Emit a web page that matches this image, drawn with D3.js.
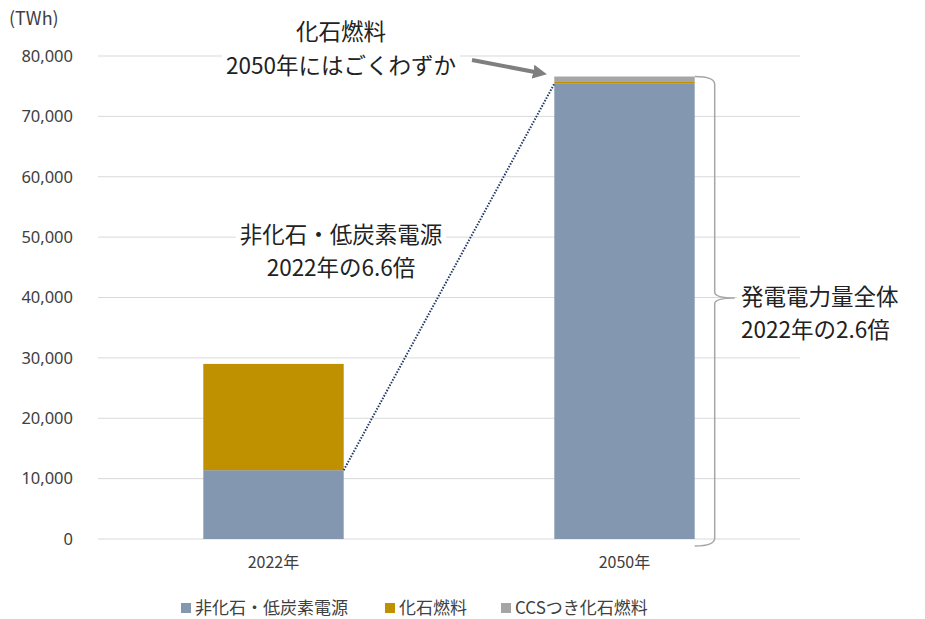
<!DOCTYPE html>
<html>
<head>
<meta charset="UTF-8" />
<title>発電電力量</title>
<script src="https://cdn.jsdelivr.net/npm/d3@7"></script>
<style>
body{margin:0;background:#fff;}
text{font-family:"Noto Sans CJK JP","Noto Sans",sans-serif;}
</style>
</head>
<body>
<div id="chart"></div>
<script>
var w=925,h=619;
var margin={top:56,right:125,bottom:80,left:98};

var years=['2022年','2050年'];
var seriesNames=['非化石・低炭素電源','化石燃料','CCSつき化石燃料'];
var nonFossil=[11400,75400];
var fossil=[17600,300];
var ccs=[0,900];
var yTicks=[0,10000,20000,30000,40000,50000,60000,70000,80000];
var colors=['#8497b0','#bf9000','#a5a5a5'];

var rows=years.map(function(y,i){
  return {year:y,'非化石・低炭素電源':nonFossil[i],'化石燃料':fossil[i],'CCSつき化石燃料':ccs[i]};
});
var stacked=d3.stack().keys(seriesNames)(rows);

var x=d3.scaleBand().domain(years).range([margin.left,w-margin.right]).paddingInner(0.6).paddingOuter(0.3);
var y=d3.scaleLinear().domain([0,80000]).range([h-margin.bottom,margin.top]);

var svg=d3.select('#chart').append('svg').attr('width',w).attr('height',h);

//グリッド線
svg.append('g').selectAll('line').data(yTicks).enter().append('line')
  .attr('x1',margin.left).attr('x2',w-margin.right)
  .attr('y1',function(d){return y(d);}).attr('y2',function(d){return y(d);})
  .attr('stroke','#d9d9d9').attr('stroke-width',1);

//y軸ラベル
var yAxis=svg.append('g').attr('transform','translate('+(margin.left-22)+',0)')
  .call(d3.axisLeft(y).tickValues(yTicks).tickSize(0).tickFormat(d3.format(',')));
yAxis.select('.domain').remove();
yAxis.selectAll('text').attr('font-size',16.5).attr('fill','#404040')
  .style('font-family','"Noto Sans","Noto Sans CJK JP",sans-serif');

svg.append('text').attr('x',9).attr('y',25).attr('font-size',18).attr('fill','#404040').text('(TWh)');

//x軸ラベル
var xAxis=svg.append('g').attr('transform','translate(0,'+(h-margin.bottom+15)+')')
  .call(d3.axisBottom(x).tickSize(0));
xAxis.select('.domain').remove();
xAxis.selectAll('text').attr('font-size',16).attr('fill','#404040');

//棒
svg.append('g').selectAll('g').data(stacked).enter().append('g')
  .attr('fill',function(d,i){return colors[i];})
  .selectAll('rect').data(function(d){return d;}).enter().append('rect')
  .attr('x',function(d){return x(d.data.year);})
  .attr('width',x.bandwidth())
  .attr('y',function(d){return y(d[1]);})
  .attr('height',function(d){return y(d[0])-y(d[1]);});

//点線
svg.append('line')
  .attr('x1',x(years[0])+x.bandwidth()).attr('y1',y(nonFossil[0]))
  .attr('x2',x(years[1])).attr('y2',y(nonFossil[1]))
  .attr('stroke','#1f3864').attr('stroke-width',2).attr('stroke-dasharray','1.5,1.5');

//中かっこ
var total2050=nonFossil[1]+fossil[1]+ccs[1];
var bx0=x(years[1])+x.bandwidth(),bx=bx0+20,by0=y(total2050),by1=y(0)+7,tipY=298;
var brace='M'+bx0+','+by0+' Q'+bx+','+by0+' '+bx+','+(by0+8)
  +' L'+bx+','+(tipY-6)+' Q'+bx+','+tipY+' '+(bx+20)+','+tipY
  +' Q'+bx+','+tipY+' '+bx+','+(tipY+6)
  +' L'+bx+','+(by1-8)+' Q'+bx+','+by1+' '+bx0+','+by1;
svg.append('path').attr('d',brace).attr('fill','none').attr('stroke','#a6a6a6').attr('stroke-width',1.5);

//注記
function note(cx,lines,ys,anchor){
  var g=svg.append('g');
  lines.forEach(function(t,i){
    var tx=g.append('text').attr('x',cx).attr('y',ys[i]).attr('text-anchor',anchor||'middle')
      .attr('font-size',22.5).attr('fill','#222').text(t);
    var b=tx.node().getBBox();
    g.insert('rect','text').attr('x',b.x-4).attr('y',b.y).attr('width',b.width+8).attr('height',b.height).attr('fill','#fff');
  });
}
note(341,['化石燃料','2050年にはごくわずか'],[40,74]);
note(341,['非化石・低炭素電源','2022年の6.6倍'],[243,276]);
note(741,['発電電力量全体','2022年の2.6倍'],[305,338],'start');

//矢印
svg.append('defs').append('marker').attr('id','ah').attr('viewBox','0 0 10 10')
  .attr('refX',5).attr('refY',5).attr('markerWidth',3.5).attr('markerHeight',3.5).attr('orient','auto')
  .append('path').attr('d','M0,0 L10,5 L0,10 z').attr('fill','#7f7f7f');
svg.append('line').attr('x1',472).attr('y1',60).attr('x2',540).attr('y2',73)
  .attr('stroke','#7f7f7f').attr('stroke-width',4).attr('marker-end','url(#ah)');

//凡例
var legX=[181,385,501];
var leg=svg.append('g').selectAll('g').data(seriesNames).enter().append('g')
  .attr('transform',function(d,i){return 'translate('+legX[i]+',603)';});
leg.append('rect').attr('width',10).attr('height',10).attr('fill',function(d,i){return colors[i];});
leg.append('text').attr('x',14).attr('y',11).attr('font-size',17).attr('fill','#404040').text(function(d){return d;});
</script>
</body>
</html>
